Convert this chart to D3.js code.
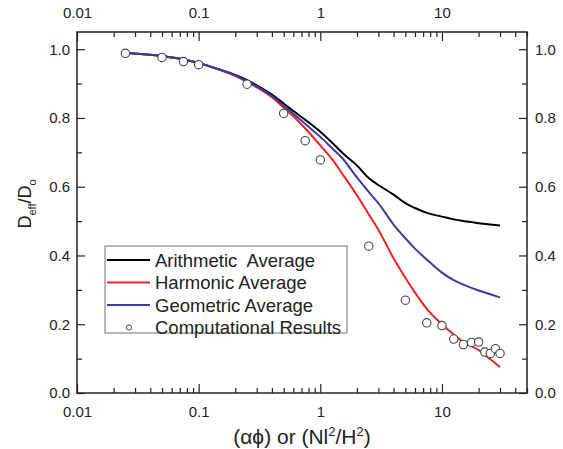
<!DOCTYPE html>
<html>
<head>
<meta charset="utf-8">
<script src="https://cdn.jsdelivr.net/npm/d3@7"></script>
<style>
  body { margin: 0; background: #fff; }
  svg { font-family: "Liberation Sans", Arial, sans-serif; }
</style>
</head>
<body>
<svg id="chart" width="563" height="449"></svg>
<script>
// x positions shared by the three model curves
const curveX = [0.025, 0.05, 0.075, 0.1, 0.15, 0.2, 0.25, 0.3, 0.4, 0.5, 0.6, 0.75, 1, 1.25, 1.5, 2, 2.5, 3, 4, 5, 6, 7.5, 10, 12.5, 15, 20, 25, 30];
const arithmetic = [0.99, 0.98, 0.97, 0.96, 0.94, 0.925, 0.91, 0.895, 0.868, 0.842, 0.82, 0.795, 0.76, 0.728, 0.70, 0.662, 0.625, 0.605, 0.577, 0.552, 0.538, 0.524, 0.513, 0.505, 0.50, 0.494, 0.49, 0.487];
const harmonic   = [0.99, 0.98, 0.97, 0.96, 0.94, 0.922, 0.905, 0.889, 0.86, 0.83, 0.805, 0.77, 0.72, 0.68, 0.64, 0.575, 0.52, 0.475, 0.392, 0.335, 0.292, 0.245, 0.20, 0.17, 0.148, 0.125, 0.098, 0.075];
const geometric  = [0.99, 0.98, 0.97, 0.96, 0.94, 0.924, 0.907, 0.892, 0.864, 0.836, 0.812, 0.783, 0.745, 0.712, 0.685, 0.627, 0.585, 0.552, 0.49, 0.45, 0.42, 0.388, 0.35, 0.328, 0.315, 0.298, 0.287, 0.278];

// computational results (open circles)
const compX = [0.025, 0.05, 0.075, 0.1, 0.25, 0.5, 0.75, 1, 2.5, 5, 7.5, 10, 12.5, 15, 17.5, 20, 22.5, 25, 27.5, 30];
const compY = [0.988, 0.976, 0.964, 0.955, 0.898, 0.813, 0.734, 0.678, 0.427, 0.27, 0.204, 0.196, 0.157, 0.141, 0.147, 0.148, 0.119, 0.115, 0.129, 0.115];

const xTicks = [0.01, 0.1, 1, 10];
const yTicks = [0, 0.2, 0.4, 0.6, 0.8, 1.0];

const series = [
  { name: 'Arithmetic  Average', values: arithmetic, color: '#000000' },
  { name: 'Harmonic Average', values: harmonic, color: '#ee2222' },
  { name: 'Geometric Average', values: geometric, color: '#3a3aa8' },
];

const M = { top: 32, right: 36, bottom: 56, left: 77 };
const W = 563, H = 449;
const AXIS = '#222';

const svg = d3.select('#chart');

const x = d3.scaleLog().domain([0.01, 50]).range([M.left, W - M.right]);
const y = d3.scaleLinear().domain([0, 1.05]).range([H - M.bottom, M.top]);

// minor ticks: 2..9 of each decade
const minorX = [];
[0.01, 0.1, 1, 10].forEach(d => { for (let k = 2; k <= 9; k++) if (d * k <= 50) minorX.push(d * k); });
const minorY = d3.range(0.1, 1.05, 0.2);

function fmtX(v) { return v >= 1 ? String(v) : String(+v.toFixed(2)); }

// Axes (ticks inward on all four sides)
const gBottom = svg.append('g').attr('transform', `translate(0,${y(0)})`)
  .call(d3.axisBottom(x).tickValues(xTicks).tickFormat(fmtX).tickSize(-9).tickPadding(13));
const gBottomMinor = svg.append('g').attr('transform', `translate(0,${y(0)})`)
  .call(d3.axisBottom(x).tickValues(minorX).tickFormat('').tickSize(-5));
const gTop = svg.append('g').attr('transform', `translate(0,${M.top})`)
  .call(d3.axisTop(x).tickValues(xTicks).tickFormat(fmtX).tickSize(-9).tickPadding(14));
const gTopMinor = svg.append('g').attr('transform', `translate(0,${M.top})`)
  .call(d3.axisTop(x).tickValues(minorX).tickFormat('').tickSize(-5));
const gLeft = svg.append('g').attr('transform', `translate(${M.left},0)`)
  .call(d3.axisLeft(y).tickValues(yTicks).tickFormat(d3.format('.1f')).tickSize(-8).tickPadding(7));
const gLeftMinor = svg.append('g').attr('transform', `translate(${M.left},0)`)
  .call(d3.axisLeft(y).tickValues(minorY).tickFormat('').tickSize(-5));
const gRight = svg.append('g').attr('transform', `translate(${W - M.right},0)`)
  .call(d3.axisRight(y).tickValues(yTicks).tickFormat(d3.format('.1f')).tickSize(-8).tickPadding(8));
const gRightMinor = svg.append('g').attr('transform', `translate(${W - M.right},0)`)
  .call(d3.axisRight(y).tickValues(minorY).tickFormat('').tickSize(-5));

[gBottom, gBottomMinor, gTop, gTopMinor, gLeft, gLeftMinor, gRight, gRightMinor].forEach(g => {
  g.select('.domain').remove();
  g.selectAll('line').attr('stroke', AXIS).attr('stroke-width', 1.2);
  g.selectAll('text').attr('fill', '#222').attr('font-size', 15)
    .attr('font-family', '"Liberation Sans", Arial, sans-serif');
});

// frame
svg.append('rect')
  .attr('x', M.left).attr('y', M.top)
  .attr('width', W - M.right - M.left).attr('height', y(0) - M.top)
  .attr('fill', 'none').attr('stroke', AXIS).attr('stroke-width', 1.5);

// Curves
const line = d3.line().x(d => x(d[0])).y(d => y(d[1])).curve(d3.curveMonotoneX);
series.forEach(s => {
  svg.append('path')
    .datum(curveX.map((v, i) => [v, s.values[i]]))
    .attr('fill', 'none').attr('stroke', s.color).attr('stroke-width', 2)
    .attr('d', line);
});

// Points
svg.append('g').selectAll('circle')
  .data(compX.map((v, i) => [v, compY[i]]))
  .join('circle')
  .attr('cx', d => x(d[0])).attr('cy', d => y(d[1])).attr('r', 4.2)
  .attr('fill', '#fff').attr('stroke', '#444').attr('stroke-width', 1.1);

// Legend
const lg = svg.append('g').attr('transform', 'translate(105,246)');
lg.append('rect').attr('width', 242).attr('height', 87)
  .attr('fill', '#fff').attr('stroke', '#888').attr('stroke-width', 1.2);
const rowY = [14, 36.5, 59, 81.5];
series.forEach((s, i) => {
  lg.append('line').attr('x1', 2).attr('x2', 45).attr('y1', rowY[i]).attr('y2', rowY[i])
    .attr('stroke', s.color).attr('stroke-width', 2);
  lg.append('text').attr('x', 50).attr('y', rowY[i]).attr('dy', '0.36em')
    .attr('font-size', 18.5).attr('fill', '#222').attr('xml:space', 'preserve').style('white-space', 'pre')
    .text(s.name);
});
lg.append('circle').attr('cx', 24).attr('cy', rowY[3]).attr('r', 2.6)
  .attr('fill', '#fff').attr('stroke', '#444').attr('stroke-width', 1);
lg.append('text').attr('x', 50).attr('y', rowY[3]).attr('dy', '0.36em')
  .attr('font-size', 18.5).attr('fill', '#222').text('Computational Results');

// Axis titles
const xt = svg.append('text').attr('x', (M.left + W - M.right) / 2).attr('y', 444)
  .attr('text-anchor', 'middle').attr('font-size', 21).attr('fill', '#222');
xt.append('tspan').text('(αϕ) or (Nl');
xt.append('tspan').attr('font-size', 13).attr('dy', -8).text('2');
xt.append('tspan').attr('dy', 8).text('/H');
xt.append('tspan').attr('font-size', 13).attr('dy', -8).text('2');
xt.append('tspan').attr('dy', 8).text(')');

const yt = svg.append('text').attr('transform', 'translate(31,204) rotate(-90)')
  .attr('text-anchor', 'middle').attr('font-size', 18).attr('fill', '#222');
yt.append('tspan').text('D');
yt.append('tspan').attr('font-size', 11).attr('dy', 5).text('eff');
yt.append('tspan').attr('dy', -5).text('/D');
yt.append('tspan').attr('font-size', 11).attr('dy', 5).text('o');
</script>
</body>
</html>
